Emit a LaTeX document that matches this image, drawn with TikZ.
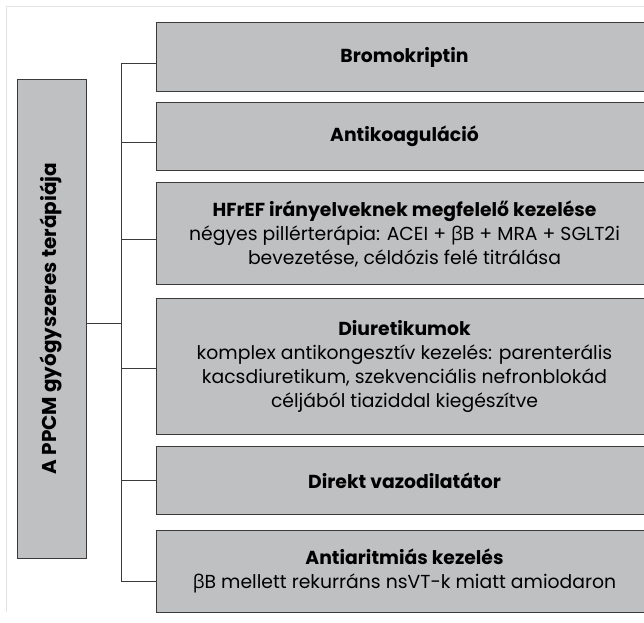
\documentclass[tikz,border=0pt]{standalone}
\usepackage{fontspec}
\setmainfont{Poppins}
\newfontfamily\grk{Open Sans}
\newcommand{\bet}{{\grk β}}
\definecolor{boxfill}{HTML}{BFC0C2}
\definecolor{boxline}{HTML}{3A3A3A}
\definecolor{frameline}{HTML}{E2E2E2}
\begin{document}
\begin{tikzpicture}[x=1pt,y=-1pt,
  box/.style={draw=boxline, fill=boxfill, line width=1pt, inner sep=0pt, align=center,
    anchor=north west, minimum width=496pt, font=\fontsize{18.8}{24}\selectfont},
  conn/.style={draw=boxline, line width=1pt}]
\useasboundingbox (0,0) rectangle (644,622);
\clip (0,0) rectangle (644,622);
\fill[white] (0,0) rectangle (644,622);
\draw[frameline, line width=1.5pt] (6.5,612) -- (6.5,6.5) -- (650,6.5);

\node[box, anchor=north west, minimum width=69pt, minimum height=479pt] (main) at (16.5,78.5) {};
\node[rotate=90, font=\bfseries\fontsize{20}{24}\selectfont] (maintext) at ([xshift=-1pt]main.center) {A PPCM gyógyszeres terápiája};

\node[box, minimum height=69pt] (b1) at (156,22) {\textbf{Bromokriptin}};
\node[box, minimum height=68pt] (b2) at (156,102) {\textbf{Antikoaguláció}};
\node[box, minimum height=102pt] (b3) at (156,182) {\textbf{HFrEF irányelveknek megfelelő kezelése}\\négyes pillérterápia: ACEI + \bet B + MRA + SGLT2i\\bevezetése, céldózis felé titrálása};
\node[box, minimum height=136pt] (b4) at (156,298) {\textbf{Diuretikumok}\\komplex antikongesztív kezelés: parenterális\\kacsdiuretikum, szekvenciális nefronblokád\\céljából tiaziddal kiegészítve};
\node[box, minimum height=68pt] (b5) at (156,446) {\textbf{Direkt vazodilatátor}};
\node[box, minimum height=82pt] (b6) at (156,529.5) {\textbf{Antiaritmiás kezelés}\\\bet B mellett rekurráns nsVT-k miatt amiodaron};

\coordinate (trunk) at (121,323);
\coordinate (t1) at (121,63);
\coordinate (t6) at (121,581.5);
\draw[conn] (main.east |- trunk) -- (trunk);
\draw[conn] (b1.west |- t1) -- (t1) -- (t6) -- (b6.west |- t6);
\draw[conn] (121,142.5) -- (b2.west |- 0,142.5);
\draw[conn] (121,239.5) -- (b3.west |- 0,239.5);
\draw[conn] (121,368.5) -- (b4.west |- 0,368.5);
\draw[conn] (121,480.5) -- (b5.west |- 0,480.5);
\end{tikzpicture}
\end{document}
